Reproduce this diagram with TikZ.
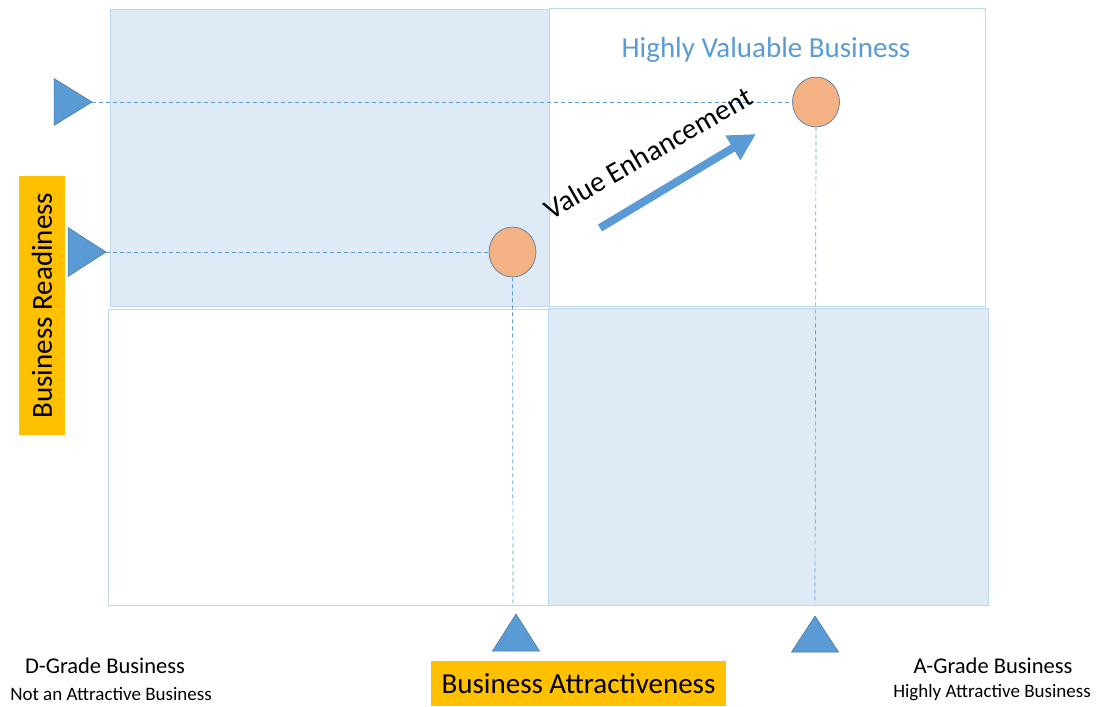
\documentclass[tikz,border=0pt]{standalone}
\usepackage{fontspec}
\setmainfont{Carlito}
\usetikzlibrary{arrows.meta,shapes.geometric}
\definecolor{quadblue}{HTML}{DEEBF7}
\definecolor{quadedge}{HTML}{BDD7EE}
\definecolor{markerblue}{HTML}{5B9BD5}
\definecolor{markeredge}{HTML}{41719C}
\definecolor{pointorange}{HTML}{F4B183}
\definecolor{labelgold}{HTML}{FFC000}

\begin{document}
\begin{tikzpicture}[x=1pt,y=-1pt,
    quad/.style={draw=quadedge,line width=0.8pt},
    guide/.style={draw=markerblue,line width=0.7pt,dash pattern=on 4pt off 3pt},
    marker/.style={fill=markerblue,draw=markeredge,line width=0.5pt},
    point/.style={ellipse,draw=markeredge,fill=pointorange,line width=0.6pt,minimum width=47pt,minimum height=50pt,inner sep=0pt},
    axislabel/.style={fill=labelgold,inner sep=0pt,font=\fontsize{29}{34}\selectfont},
    gradetext/.style={align=center,inner sep=0pt}]
    \useasboundingbox (0,0) rectangle (1096,707);
    % quadrants
    \draw[quad,fill=quadblue] (110,9) rectangle (549,306);
    \draw[quad] (549,8) rectangle (985,306);
    \draw[quad] (108,309) rectangle (548,605);
    \draw[quad,fill=quadblue] (548,308) rectangle (988,605);
    \node[text=markerblue,font=\fontsize{29}{34}\selectfont] (hvb) at (766,50) {Highly Valuable Business};
    % business positions
    \node[point] (vlow) at (512.5,252) {};
    \node[point] (vhigh) at (816,102) {};
    \coordinate (rtop) at (92,102);
    \coordinate (rlow) at (106,252);
    \coordinate (alow) at (516,614);
    \coordinate (ahigh) at (815,616);
    \coordinate (alowend) at (513,603);
    \coordinate (ahighend) at (815,604);
    \draw[guide] (rtop) -- (vhigh.west);
    \draw[guide] (rlow) -- (vlow.west);
    \draw[guide] (vlow.south) -- (alowend);
    \draw[guide] (vhigh.south) -- (ahighend);
    % markers on the axes
    \draw[marker] (rtop) -- ++(-38,-23.5) -- ++(0,47) -- cycle;
    \draw[marker] (rlow) -- ++(-38,-24.5) -- ++(0,49) -- cycle;
    \draw[marker] (alow) -- ++(-23.5,37) -- ++(47,0) -- cycle;
    \draw[marker] (ahigh) -- ++(-23.5,36) -- ++(47,0) -- cycle;
    % value arrow
    \coordinate (vstart) at (600,228);
    \coordinate (vend) at (756,134);
    \draw[markerblue,line width=8pt,-{Triangle[length=27pt,width=27pt]}] (vstart) -- (vend);
    \node[rotate=30,font=\fontsize{29}{34}\selectfont] (enh) at (648,153) {Value Enhancement};
    % axis labels
    \node[axislabel,rotate=90,minimum width=259pt,minimum height=46pt] (readiness) at (42,305.5) {Business Readiness};
    \node[axislabel,minimum width=295pt,minimum height=45pt] (attract) at (578.5,683.5) {Business Attractiveness};
    \node[gradetext] (dgrade) at (105,666) {\fontsize{22.5}{26}\selectfont D-Grade Business};
    \node[gradetext] (dnote) at (111,694) {\fontsize{19}{22}\selectfont Not an Attractive Business};
    \node[gradetext] (agrade) at (993,666) {\fontsize{22.5}{26}\selectfont A-Grade Business};
    \node[gradetext] (anote) at (992,693) {\fontsize{19}{22}\selectfont Highly Attractive Business};
\end{tikzpicture}
\end{document}
